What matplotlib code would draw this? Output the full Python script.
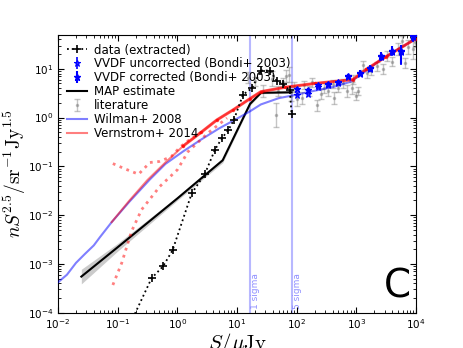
import numpy as np
import matplotlib
matplotlib.use('Agg')
import matplotlib.pyplot as plt

plt.rcParams['font.family'] = ['DejaVu Sans']
plt.rcParams['mathtext.fontset'] = 'dejavusans'
plt.rcParams['xtick.direction'] = 'in'
plt.rcParams['ytick.direction'] = 'in'
plt.rcParams['xtick.top'] = True
plt.rcParams['ytick.right'] = True

# data extracted (black crosses, dotted)
data_S = [0.166, 0.37, 0.575, 0.83, 1.74, 2.88, 4.27, 5.6, 7.2, 8.9, 12.6, 17.8, 25.1, 35.5, 46, 58, 77, 82]
data_y = [6.3e-5, 5.1e-4, 8.9e-4, 1.9e-3, 0.028, 0.069, 0.22, 0.38, 0.56, 0.91, 2.95, 4.0, 9.2, 9.2, 5.75, 4.9, 3.6, 1.2]

# MAP estimate + band (half width in dex)
map_S = [0.0246, 0.1, 1.0, 5.75, 16.5, 25.2, 82]
map_y = [5.5e-4, 2.2e-3, 0.022, 0.133, 1.9, 3.22, 3.3]
map_dex = [0.15, 0.08, 0.04, 0.05, 0.03, 0.02, 0.02]

# Wilman+ 2008
wil_S = [0.01, 0.0141, 0.02, 0.0282, 0.0398, 0.0501, 0.0794, 0.158, 0.347, 0.631, 1.26, 2.51,
         5.01, 10, 16.6, 25.1, 50.1, 100, 200, 398, 794, 1259, 2512, 5012, 10000]
wil_y = [4.2e-4, 6.0e-4, 1.05e-3, 1.6e-3, 2.4e-3, 3.5e-3, 7.2e-3, 0.019, 0.054, 0.112, 0.204, 0.355,
         0.60, 0.95, 1.35, 1.86, 2.5, 2.95, 3.55, 4.2, 5.4, 7.9, 15.1, 25.1, 41.7]

# Vernstrom+ 2014 and its dotted envelope
ver_S = [0.0794, 0.158, 0.316, 0.631, 1.26, 2.51, 4.57, 8.7, 16.6, 25.1, 63, 200, 871, 1479, 3162, 10000]
ver_y = [7.2e-3, 0.020, 0.0525, 0.120, 0.263, 0.50, 0.89, 1.45, 2.45, 3.39, 4.17, 5.0, 6.0, 9.8, 17.8, 41.7]
ver_hi_S = [0.083, 0.132, 0.224, 0.347, 0.50, 0.79, 1.12, 1.62, 2.51]
ver_hi_y = [0.114, 0.089, 0.069, 0.120, 0.126, 0.158, 0.251, 0.355, 0.50]
ver_lo_S = [0.083, 0.117, 0.17, 0.251, 0.51, 1.0, 1.51, 3.31, 6.8]
ver_lo_y = [3.7e-4, 1.05e-3, 4.6e-3, 0.0129, 0.0389, 0.085, 0.20, 0.49, 0.98]

# VVDF (Bondi+ 2003)
vv_S = [102, 157, 224, 339, 501, 733, 1150, 1700, 2570, 3890, 5620, 8790]
vv_cor = [3.9, 3.76, 4.55, 4.9, 5.4, 7.0, 8.3, 10.2, 18.2, 23.4, 23.4, 46.8]
vv_unc = [2.95, 3.05, 4.3, 4.7, 5.2, 6.7, 8.0, 9.8, 17.5, 22.5, 22.5, 45.0]
vv_err_lo = [0.03, 0.03, 0.03, 0.03, 0.04, 0.04, 0.05, 0.06, 0.08, 0.09, 0.27, 0.10]
vv_err_hi = [0.03, 0.03, 0.03, 0.03, 0.04, 0.04, 0.05, 0.06, 0.08, 0.09, 0.12, 0.10]

# literature compilation
lit_S = [15.5, 20, 27.5, 38, 44.7, 49, 59, 66, 75, 79, 89, 100, 122, 132, 158, 178, 221, 251, 282,
         339, 407, 422, 501, 603, 708, 832, 891, 1000, 1072, 1318, 1496, 1778, 2239, 2818, 3236,
         3981, 5012, 5754, 6531, 7413, 8913, 9550]
lit_y = [6.6, 5.5, 3.55, 6.3, 1.12, 3.47, 5.25, 7.1, 7.6, 2.8, 4.2, 2.4, 2.5, 4.6, 3.55, 5.25, 1.78,
         3.0, 4.0, 3.47, 4.8, 2.54, 4.0, 5.0, 3.55, 4.1, 6.0, 2.8, 3.47, 11.7, 8.3, 8.9, 11.2, 10,
         18.2, 14.1, 25.1, 37.2, 13.2, 28.2, 25.1, 35.5]
lit_dex = [0.12, 0.10, 0.12, 0.15, 0.25, 0.10, 0.10, 0.12, 0.15, 0.10, 0.10, 0.15, 0.12, 0.08, 0.10,
           0.10, 0.12, 0.10, 0.10, 0.10, 0.08, 0.12, 0.08, 0.10, 0.12, 0.12, 0.10, 0.08, 0.08, 0.10,
           0.10, 0.08, 0.10, 0.10, 0.10, 0.10, 0.12, 0.10, 0.10, 0.15, 0.20, 0.10]

sigma1 = 16.5
sigma5 = 82.5


def dex_err(y, lo, hi):
    y = np.asarray(y)
    return [y * (1 - 10 ** -np.asarray(lo)), y * (10 ** np.asarray(hi) - 1)]


fig = plt.figure(figsize=(4.63, 3.48), dpi=100)
ax = fig.add_axes([0.1253, 0.1014, 0.7732, 0.7989])

ax.axvline(sigma1, color='#b8b8ff', lw=1.5, zorder=1)
ax.axvline(sigma5, color='#b8b8ff', lw=1.5, zorder=1)
ax.text(sigma1 * 1.06, 1.2e-4, '1 sigma', rotation=90, color='#9090ff', fontsize=6.5,
        ha='left', va='bottom')
ax.text(sigma5 * 1.06, 1.2e-4, '5 sigma', rotation=90, color='#9090ff', fontsize=6.5,
        ha='left', va='bottom')

h_data, = ax.plot(data_S, data_y, ls=':', marker='+', color='k', ms=6, mew=1.2, lw=1.3,
                  zorder=5)

h_unc = ax.errorbar(vv_S, vv_unc, yerr=dex_err(vv_unc, vv_err_lo, vv_err_hi), fmt='*',
                    color='blue', mfc='none', ms=5, mew=0.8, elinewidth=1.2, capsize=0, zorder=4)
h_cor = ax.errorbar(vv_S, vv_cor, yerr=dex_err(vv_cor, vv_err_lo, vv_err_hi), fmt='*',
                    color='blue', ms=5, elinewidth=1.5, capsize=0, zorder=4)

m_lo = np.array(map_y) / 10 ** np.array(map_dex)
m_hi = np.array(map_y) * 10 ** np.array(map_dex)
ax.fill_between(map_S, m_lo, m_hi, color='0.6', alpha=0.5, lw=0, zorder=2)
h_map, = ax.plot(map_S, map_y, color='k', lw=1.5, zorder=3)

h_lit = ax.errorbar(lit_S, lit_y, yerr=dex_err(lit_y, lit_dex, lit_dex), fmt='.', color='0.5',
                    alpha=0.45, ms=3, elinewidth=1, capsize=2, zorder=2)

h_wil, = ax.plot(wil_S, wil_y, color='blue', alpha=0.5, lw=1.5, zorder=3)

ax.plot(ver_hi_S, ver_hi_y, ls=':', color='red', alpha=0.5, lw=2, zorder=3)
ax.plot(ver_lo_S, ver_lo_y, ls=':', color='red', alpha=0.5, lw=2, zorder=3)
h_ver, = ax.plot(ver_S, ver_y, color='red', alpha=0.5, lw=1.5, zorder=3)
ax.plot(ver_S[4:], ver_y[4:], color='red', alpha=0.6, lw=2.2, marker='.', ms=3, zorder=3)

ax.set_xscale('log')
ax.set_yscale('log')
ax.set_xlim(1e-2, 1e4)
ax.set_ylim(1e-4, 50)
ax.tick_params(which='both', labelsize=7.5)
ax.tick_params(which='major', length=4)
ax.tick_params(which='minor', length=2)

ax.set_xlabel(r'$S/\mu\mathrm{Jy}$', fontsize=15, math_fontfamily='cm', labelpad=0)
ax.set_ylabel(r'$nS^{2.5}/\mathrm{sr}^{-1}\mathrm{Jy}^{1.5}$', fontsize=14,
              math_fontfamily='cm', labelpad=0)

ax.text(0.986, 0.054, 'C', transform=ax.transAxes, fontsize=28, ha='right', va='baseline')

ax.legend([h_data, h_unc, h_cor, h_map, h_lit, h_wil, h_ver],
          ['data (extracted)', 'VVDF uncorrected (Bondi+ 2003)', 'VVDF corrected (Bondi+ 2003)',
           'MAP estimate', 'literature', 'Wilman+ 2008', 'Vernstrom+ 2014'],
          loc='upper left', frameon=False, fontsize=8.5, handlelength=1.7, handletextpad=0.6,
          labelspacing=0.08, borderpad=0.3, borderaxespad=0.45, numpoints=1)

fig.savefig('out.png', dpi=100)
